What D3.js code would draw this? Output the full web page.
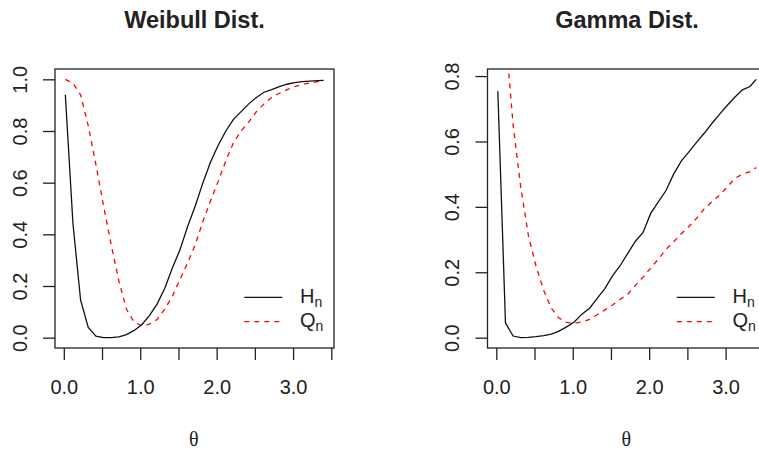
<!DOCTYPE html>
<html>
<head>
<meta charset="utf-8">
<script src="https://cdn.jsdelivr.net/npm/d3@7/dist/d3.min.js"></script>
<style>
  html, body { margin: 0; padding: 0; background: #fff; }
  svg { display: block; }
  text { font-family: "Liberation Sans", Arial, Helvetica, sans-serif; fill: #222; }
</style>
</head>
<body>
<svg id="chart" width="759" height="450"></svg>
<script>
// ---- data ----
const theta = [0.02,0.12,0.22,0.32,0.42,0.52,0.62,0.72,0.82,0.92,1.02,1.12,1.22,1.32,1.42,1.52,1.62,1.72,1.82,1.92,
               2.02,2.12,2.22,2.32,2.42,2.52,2.62,2.72,2.82,2.92,3.02,3.12,3.22,3.32,3.40];

const weibullH = [0.94,0.44,0.145,0.04,0.006,0.0,0.0,0.003,0.012,0.028,0.05,0.085,0.13,0.19,0.27,0.34,0.43,0.51,0.60,0.68,
                  0.745,0.80,0.845,0.875,0.905,0.93,0.95,0.96,0.972,0.981,0.987,0.991,0.993,0.995,0.996];
const weibullQ = [1.0,0.985,0.94,0.82,0.67,0.51,0.36,0.22,0.11,0.06,0.046,0.052,0.07,0.11,0.16,0.225,0.29,0.36,0.45,0.53,
                  0.605,0.685,0.755,0.80,0.835,0.875,0.905,0.93,0.946,0.96,0.972,0.98,0.986,0.991,0.993];

const gammaH = [0.754,0.045,0.005,0.0,0.001,0.003,0.006,0.011,0.02,0.033,0.048,0.072,0.09,0.12,0.15,0.189,0.22,0.258,0.295,0.322,
                0.38,0.415,0.45,0.50,0.54,0.568,0.597,0.625,0.655,0.683,0.71,0.735,0.758,0.768,0.79];
const gammaQ = [1.05,0.93,0.65,0.46,0.312,0.218,0.145,0.09,0.06,0.047,0.044,0.048,0.056,0.07,0.085,0.10,0.117,0.133,0.16,0.185,
                0.213,0.24,0.27,0.293,0.318,0.34,0.365,0.394,0.415,0.436,0.46,0.487,0.50,0.508,0.52];

const titles = ["Weibull Dist.", "Gamma Dist."];
const xTicks = [0,0.5,1.0,1.5,2.0,2.5,3.0,3.5];
const xLabelTicks = [0,1,2,3];
const yTicksW = [0,0.2,0.4,0.6,0.8,1.0];
const yTicksG = [0,0.2,0.4,0.6,0.8];
const legendLabels = ["H", "Q"];
const xLabel = "θ";

// ---- layout ----
const svg = d3.select("#chart");
const panelW = 279, plotTop = 69, plotBottom = 348;
const panels = [
  {left: 55,    title: titles[0], H: weibullH, Q: weibullQ, yTicks: yTicksW, ymax: d3.max(weibullH.concat(weibullQ))},
  {left: 487.5, title: titles[1], H: gammaH,   Q: gammaQ,   yTicks: yTicksG, ymax: d3.max(gammaH)}
];

panels.forEach((p, i) => {
  const xmin = d3.min(theta), xmax = d3.max(theta);
  const xpad = (xmax - xmin) * 0.04;
  const x = d3.scaleLinear().domain([xmin - xpad, xmax + xpad]).range([p.left, p.left + panelW]);
  const ypad = p.ymax * 0.04;
  const y = d3.scaleLinear().domain([0 - ypad, p.ymax + ypad]).range([plotBottom, plotTop]);

  const g = svg.append("g");
  const clipId = "clip" + i;
  svg.append("defs").append("clipPath").attr("id", clipId)
    .append("rect").attr("x", p.left).attr("y", plotTop).attr("width", panelW).attr("height", plotBottom - plotTop);

  const line = d3.line().x((d, k) => x(theta[k])).y(d => y(d));

  g.append("path").datum(p.Q)
    .attr("clip-path", `url(#${clipId})`)
    .attr("d", line).attr("fill", "none").attr("stroke", "#ff0000")
    .attr("stroke-width", 1.3).attr("stroke-dasharray", "5,5");
  g.append("path").datum(p.H)
    .attr("clip-path", `url(#${clipId})`)
    .attr("d", line).attr("fill", "none").attr("stroke", "#111")
    .attr("stroke-width", 1.3);

  // box
  g.append("rect").attr("x", p.left).attr("y", plotTop).attr("width", panelW).attr("height", plotBottom - plotTop)
    .attr("fill", "none").attr("stroke", "#222").attr("stroke-width", 1.3);

  // x axis
  const xa = g.append("g").attr("transform", `translate(0,${plotBottom})`)
    .call(d3.axisBottom(x).tickValues(xTicks).tickSize(12)
      .tickFormat(d => xLabelTicks.includes(d) ? d3.format(".1f")(d) : ""));
  xa.select(".domain").remove();
  xa.selectAll(".tick line").attr("stroke", "#222").attr("stroke-width", 1.3);
  xa.selectAll(".tick text").attr("y", 45.5).attr("dy", null)
    .style("font-size", "20px").style("font-family", "Liberation Sans, Arial, sans-serif").attr("fill", "#222");

  // y axis
  const ya = g.append("g").attr("transform", `translate(${p.left},0)`)
    .call(d3.axisLeft(y).tickValues(p.yTicks).tickSize(12).tickFormat(d3.format(".1f")));
  ya.select(".domain").remove();
  ya.selectAll(".tick line").attr("stroke", "#222").attr("stroke-width", 1.3);
  ya.selectAll(".tick text").attr("x", null).attr("dy", null)
    .attr("transform", "translate(-28.5,0) rotate(-90)")
    .attr("text-anchor", "middle")
    .style("font-size", "20px").style("font-family", "Liberation Sans, Arial, sans-serif").attr("fill", "#222");

  // title
  g.append("text").attr("x", p.left + panelW / 2).attr("y", 28.3)
    .attr("text-anchor", "middle").style("font-size", "23.5px").style("font-weight", "bold")
    .text(p.title);

  // x label
  g.append("text").attr("x", x(0) + 130).attr("y", 446)
    .attr("text-anchor", "middle")
    .style("font-family", "Liberation Serif, DejaVu Serif, serif").style("font-size", "20px")
    .text(xLabel);

  // legend
  const lx0 = p.left + 189.3, lx1 = p.left + 227.3, tx = p.left + 245;
  const rows = [{label: legendLabels[0], ly: 297.3, ty: 303.3, stroke: "#111", dash: null},
                {label: legendLabels[1], ly: 321.7, ty: 327, stroke: "#ff0000", dash: "5,5"}];
  rows.forEach(r => {
    g.append("line").attr("x1", lx0).attr("x2", lx1).attr("y1", r.ly).attr("y2", r.ly)
      .attr("stroke", r.stroke).attr("stroke-width", 1.3).attr("stroke-dasharray", r.dash);
    const t = g.append("text").attr("x", tx).attr("y", r.ty).style("font-size", "20px");
    t.append("tspan").text(r.label);
    t.append("tspan").attr("dy", 3.5).style("font-size", "14px").text("n");
  });
});
</script>
</body>
</html>
